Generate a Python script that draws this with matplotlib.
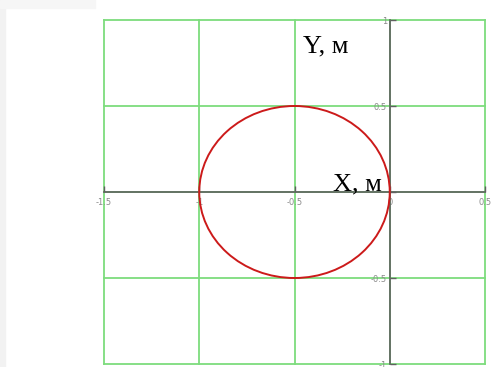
#!/usr/bin/env python3
"""Trajectory plot: circular path in the XY plane with axes through the origin."""

import matplotlib

matplotlib.use("Agg")
import matplotlib.pyplot as plt
from matplotlib.patches import Circle, Rectangle

# path geometry (metres)
center_x = -0.5
center_y = 0.0
radius = 0.5

x_ticks = [-1.5, -1.0, -0.5, 0.0, 0.5]
x_tick_labels = ["-1.5", "-1", "-0.5", "0", "0.5"]
y_ticks = [-1.0, -0.5, 0.0, 0.5, 1.0]
y_tick_labels = ["-1", "-0.5", "", "0.5", "1"]

GRID = "#7ddc7d"
AXIS = "#606060"

fig = plt.figure(figsize=(4.99, 3.67), dpi=100)
fig.patches.append(Rectangle((0, 0), 5 / 499, 1, transform=fig.transFigure,
                             color="#f2f2f2", zorder=0))
fig.patches.append(Rectangle((0, 1 - 8 / 367), 95 / 499, 8 / 367,
                             transform=fig.transFigure, color="#f6f6f6", zorder=0))
ax = fig.add_axes([104 / 499, 3 / 367, 381 / 499, 344 / 367])
ax.set_xlim(x_ticks[0], x_ticks[-1])
ax.set_ylim(y_ticks[0], y_ticks[-1])

# green grid, including the outer frame
for xv in x_ticks:
    ax.axvline(xv, color=GRID, lw=1.3, zorder=1, clip_on=False)
for yv in y_ticks:
    ax.axhline(yv, color=GRID, lw=1.3, zorder=1, clip_on=False)

# axes crossing at the origin
for side in ("top", "right"):
    ax.spines[side].set_visible(False)
ax.spines["left"].set_position(("data", 0))
ax.spines["bottom"].set_position(("data", 0))
for side in ("left", "bottom"):
    ax.spines[side].set_color(AXIS)
    ax.spines[side].set_linewidth(1.2)
    ax.spines[side].set_zorder(2)

ax.set_xticks(x_ticks)
ax.set_xticklabels(x_tick_labels)
ax.set_yticks(y_ticks)
ax.set_yticklabels(y_tick_labels)
ax.tick_params(direction="in", length=4, width=1, color=AXIS,
               labelsize=6, labelcolor="#8a8a8a", pad=2)
ax.tick_params(axis="x", pad=4)

ax.add_patch(Circle((center_x, center_y), radius, fill=False,
                    edgecolor="#cc1a1a", lw=1.4, zorder=3))

ax.text(-0.214, 0.814, "Y, м", family="Liberation Serif", fontsize=19,
        ha="right", va="baseline")
ax.text(-0.04, 0.008, "X, м", family="Liberation Serif", fontsize=19,
        ha="right", va="baseline")

fig.savefig("out.png", dpi=100)
